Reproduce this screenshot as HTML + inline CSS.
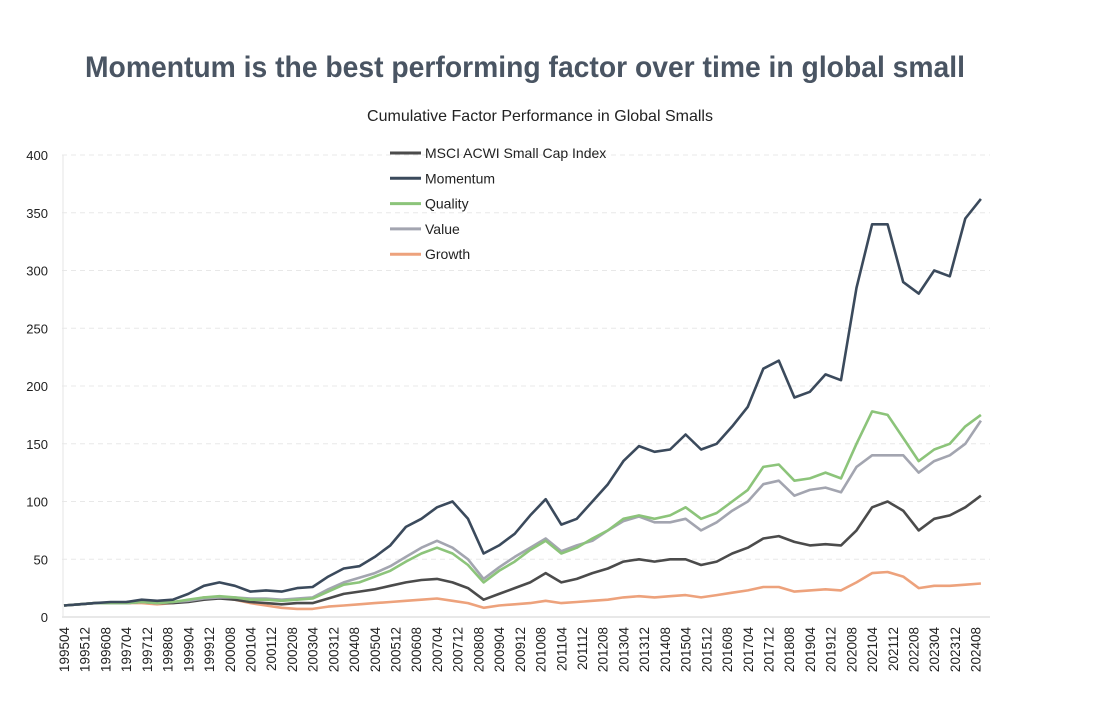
<!DOCTYPE html>
<html><head><meta charset="utf-8"><style>
body{margin:0;background:#fff;width:1110px;height:710px;overflow:hidden;font-family:"Liberation Sans",sans-serif}
</style></head><body>
<svg width="1110" height="710" id="svg">
<text x="525" y="77" text-anchor="middle" font-size="30" font-weight="bold" fill="#4a5563" textLength="880" lengthAdjust="spacingAndGlyphs">Momentum is the best performing factor over time in global small</text>
<text x="540" y="121" text-anchor="middle" font-size="16" fill="#222">Cumulative Factor Performance in Global Smalls</text>
<g id="grid"></g><g id="lines"></g><g id="legend"></g>
</svg>
<script>
const months=[];for(let t=0;t<=354;t+=6){months.push(t);}
const seriesNames=["MSCI ACWI Small Cap Index","Momentum","Quality","Value","Growth"];
const colors=["#4b4b4b","#3b4a5c","#8cc47a","#a3a5b0","#eda27c"];
const momentum=[10,11,12,13,13,15,14,15,20,27,30,27,22,23,22,25,26,35,42,44,52,62,78,85,95,100,85,55,62,72,88,102,80,85,100,115,135,148,143,145,158,145,150,165,182,215,222,190,195,210,205,285,340,340,290,280,300,295,345,362];
const quality=[10,11,12,12,12,13,12,13,15,17,18,17,15,15,14,15,16,22,28,30,35,40,48,55,60,55,45,30,40,48,58,66,55,60,68,75,85,88,85,88,95,85,90,100,110,130,132,118,120,125,120,150,178,175,155,135,145,150,165,175];
const value=[10,11,12,12,12,13,12,13,14,16,17,17,16,16,15,16,17,24,30,34,38,44,52,60,66,60,50,33,43,52,60,68,57,62,66,75,83,87,82,82,85,75,82,92,100,115,118,105,110,112,108,130,140,140,140,125,135,140,150,170];
const msci=[10,11,12,12,12,13,12,12,13,15,16,15,13,12,11,12,12,16,20,22,24,27,30,32,33,30,25,15,20,25,30,38,30,33,38,42,48,50,48,50,50,45,48,55,60,68,70,65,62,63,62,75,95,100,92,75,85,88,95,105];
const growth=[10,11,12,12,12,12,11,12,14,17,17,15,12,10,8,7,7,9,10,11,12,13,14,15,16,14,12,8,10,11,12,14,12,13,14,15,17,18,17,18,19,17,19,21,23,26,26,22,23,24,23,30,38,39,35,25,27,27,28,29];
const yTicks=[0,50,100,150,200,250,300,350,400];
const xLabels=[];for(let t=0;t<=352;t+=8){const y=1995+Math.floor((3+t)/12),m=(3+t)%12+1;xLabels.push({t:t,s:y+String(m).padStart(2,'0')});}
const X=t=>64+2.59*t, Y=v=>617-v*(462/400);
const NS="http://www.w3.org/2000/svg";
function mk(tag,attrs,parent){const e=document.createElementNS(NS,tag);for(const k in attrs)e.setAttribute(k,attrs[k]);parent.appendChild(e);return e;}
const grid=document.getElementById('grid');
yTicks.forEach(v=>{
 const l=mk('line',{x1:62,x2:990,y1:Y(v),y2:Y(v),stroke:v===0?'#d0d0d0':'#e8e8e8','stroke-dasharray':v===0?'':'5,4'},grid);
 
 
 const t=mk('text',{x:48,y:Y(v)+5,'text-anchor':'end','font-size':13,fill:'#222'},grid);t.textContent=v;
 
 
});
mk('line',{x1:63,x2:63,y1:155,y2:617,stroke:'#e6e6e6'},grid);
xLabels.forEach(o=>{
 const x=X(o.t);
 const t=mk('text',{transform:`translate(${x+5},627) rotate(-90)`,'text-anchor':'end','font-size':13.5,fill:'#222'},grid);t.textContent=o.s;
 
 
});
const data=[msci,momentum,quality,value,growth];
const order=[4,0,3,2,1];
const lines=document.getElementById('lines');
order.forEach(i=>{
 const d=data[i].map((v,j)=>(j?'L':'M')+X(months[j]).toFixed(1)+','+Y(v).toFixed(1)).join('');
 const p=mk('path',{d:d,fill:'none',stroke:colors[i],'stroke-width':2.6,'stroke-linejoin':'round'},lines);
 
 
});
const lg=document.getElementById('legend');
seriesNames.forEach((n,i)=>{
 const y=153+i*25.3;
 const g=mk('g',{},lg);
 
 
 mk('line',{x1:390,x2:421,y1:y,y2:y,stroke:colors[i],'stroke-width':3},g);
 const t=mk('text',{x:425,y:y+5,'font-size':14,fill:'#222'},g);t.textContent=n;
});
</script>
</body></html>
